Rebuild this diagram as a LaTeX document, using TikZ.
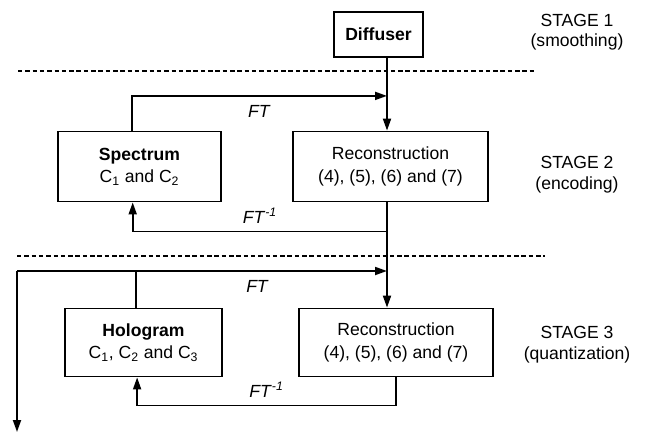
\documentclass[tikz,border=0pt]{standalone}
\usepackage{fontspec}
\setmainfont{Liberation Sans}
\usetikzlibrary{positioning,arrows.meta}

\begin{document}
\begin{tikzpicture}[node distance=3.3cm, line width=1.3pt, >={Triangle[length=3mm,width=2mm]},
  font=\fontsize{12.5}{16}\selectfont,
  block/.style={draw, rectangle, align=center, minimum height=1.75cm},
  stagelabel/.style={align=center, font=\fontsize{12.5}{14.5}\selectfont},
  stagesep/.style={line width=1.5pt, dash pattern=on 3.2pt off 2pt}]
  \useasboundingbox (0,0) rectangle (16.15,-10.825);

  \node[block, minimum width=2.225cm, minimum height=1.125cm] (DF) at (9.4625,-0.8625) {\textbf{Diffuser}};
  \node[block, minimum width=4.875cm, below of=DF, xshift=0.3cm] (RC1) {Reconstruction\\(4), (5), (6) and (7)};
  \node[block, minimum width=4.075cm, left of=RC1, xshift=-2.975cm] (SP) {\textbf{Spectrum}\\C\textsubscript{1} and C\textsubscript{2}};
  \node[block, minimum width=4.85cm, minimum height=1.7cm, below of=RC1, yshift=-1.1cm, xshift=0.1375cm] (RC2) {Reconstruction\\(4), (5), (6) and (7)};
  \node[block, minimum width=3.925cm, minimum height=1.7cm, left of=RC2, xshift=-3.0125cm] (HG) {\textbf{Hologram}\\C\textsubscript{1}, C\textsubscript{2} and C\textsubscript{3}};

  \node[stagelabel, right of=DF, xshift=1.6625cm, yshift=0.06cm] (ST1) {STAGE 1\\(smoothing)};
  \node[stagelabel, right of=RC1, xshift=1.3625cm, yshift=-0.2cm] (ST2) {STAGE 2\\(encoding)};
  \node[stagelabel, right of=RC2, xshift=1.225cm, yshift=-0.05cm] (ST3) {STAGE 3\\(quantization)};

  % stage borders
  \draw[stagesep] (0.45,-1.775) -- (13.425,-1.775);
  \draw[stagesep] (0.425,-6.4) -- (13.625,-6.4);

  \coordinate (bus) at ([xshift=0.2125cm]DF.south);
  \coordinate (ft1) at ([yshift=-0.95cm]bus);
  \coordinate (ft2) at ([yshift=-0.725cm]bus |- RC1.south);
  \coordinate (loopL) at (0.425,-6.775);
  \coordinate (ft3) at (bus |- loopL);
  \coordinate (ft4) at ([yshift=-0.7cm]RC2.south);
  \coordinate (out) at (0.425,-10.8);

  \draw[->] (bus) -- (bus |- RC1.north);
  \draw[->] ([xshift=-0.19cm]SP.north) |- (ft1) node[pos=0.75, below=3pt] (ftA) {\textit{FT}};
  \draw[->] (bus |- RC1.south) -- (bus |- RC2.north);
  \draw[->] (ft2) -| ([xshift=-0.17cm]SP.south) node[pos=0.25, above=2pt] (ftB) {\textit{FT}\textsuperscript{\textit{-1}}};

  \draw[->] (loopL) -- (ft3) node[pos=0.65, below=3pt] (ftC) {\textit{FT}};
  \draw ([xshift=-0.19cm]HG.north) -- ([xshift=-0.19cm]HG.north |- loopL);
  \draw[->] (loopL) -- (out);
  \draw[->] (RC2.south) -- (ft4) -| ([xshift=-0.16cm]HG.south) node[pos=0.25, above=2pt] (ftD) {\textit{FT}\textsuperscript{\textit{-1}}};
\end{tikzpicture}
\end{document}
